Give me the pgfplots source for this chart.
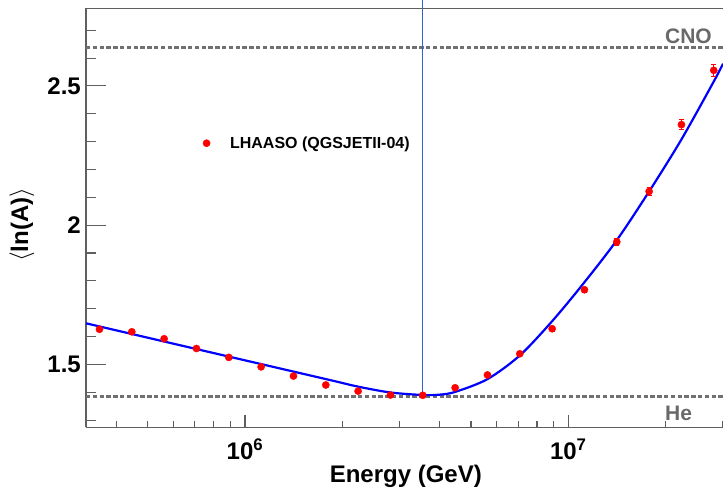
\documentclass[border=0pt]{standalone}
\usepackage{fontspec}
\setmainfont{Liberation Sans}
\usepackage{pgfplots}
\pgfplotsset{compat=1.18}
\definecolor{fitblue}{RGB}{0,0,255}
\definecolor{vline}{RGB}{40,100,215}
\definecolor{dashgray}{RGB}{112,112,112}
\definecolor{txtgray}{RGB}{105,105,105}
\definecolor{axgray}{RGB}{95,95,95}
\definecolor{ptred}{RGB}{255,0,0}
\begin{document}
\begin{tikzpicture}[x=1pt,y=1pt]
\begin{axis}[
  at={(0,0)}, anchor=south west,
  scale only axis, width=637pt, height=419pt,
  xmode=log, log basis x=10,
  xmin=3.2237e5, xmax=3.0103e7,
  ymin=1.274, ymax=2.7788,
  axis x line*=bottom, axis y line*=left,
  axis line style={axgray, line width=1.2pt},
  tick style={axgray, line width=1.1pt},
  tick align=inside,
  xtick style={/pgfplots/major tick length=12pt, /pgfplots/minor tick length=6pt},
  ytick style={/pgfplots/major tick length=20pt, /pgfplots/minor tick length=10pt},
  xtick={1e6,1e7}, xticklabels={10\textsuperscript{6},10\textsuperscript{7}},
  minor xtick={4e5,5e5,6e5,7e5,8e5,9e5,2e6,3e6,4e6,5e6,6e6,7e6,8e6,9e6,2e7,3e7},
  ytick={1.5,2,2.5}, yticklabels={1.5,2,2.5},
  minor ytick={1.3,1.4,1.6,1.7,1.8,1.9,2.1,2.2,2.3,2.4,2.6,2.7},
  ticklabel style={font=\bfseries\fontsize{24}{28}\selectfont, text=black},
  xticklabel style={anchor=base, inner sep=0pt, yshift=-32.7pt},
  yticklabel style={anchor=east, inner sep=0pt, xshift=-5pt},
  xlabel={Energy (GeV)},
  xlabel style={at={(axis description cs:0.502,0)}, anchor=base, yshift=-55.7pt, inner sep=0pt, font=\bfseries\fontsize{24}{28}\selectfont},
  ylabel={$\langle$ln(A)$\rangle$},
  ylabel style={at={(axis description cs:-0.1005,0.4828)}, anchor=center, inner sep=0pt, font=\bfseries\fontsize{24}{28}\selectfont},
  legend style={at={(axis description cs:0.183,0.678)}, anchor=west, draw=none, fill=none, inner sep=0pt,
    font=\bfseries\fontsize{16}{19}\selectfont, text=black, nodes={inner sep=0pt}},
  legend image code/.code={\fill[ptred] (0pt,0pt) circle (3.6pt); \path[draw=none] (-3.6pt,0pt) -- (23.5pt,0pt);},
  clip=false,
]
% reference lines (He and CNO)
\addplot[draw=dashgray, line width=3pt, dash pattern=on 4.4pt off 2.4pt, forget plot]
  coordinates {(3.2237e5,2.639) (3.0103e7,2.639)};
\addplot[draw=dashgray, line width=3pt, dash pattern=on 4.4pt off 2.4pt, forget plot]
  coordinates {(3.2237e5,1.386) (3.0103e7,1.386)};
% fit curve
\addplot[fitblue, line width=2.2pt, smooth, tension=0.5, forget plot] coordinates {
  (3.2237e5,1.6475) (6.3096e5,1.5685) (1e6,1.5145) (1.8323e6,1.4437)
  (2.2387e6,1.420) (2.8184e6,1.399) (3.5481e6,1.390) (3.9811e6,1.391)
  (4.4668e6,1.401) (5.6234e6,1.447) (7.0795e6,1.532) (8.9125e6,1.655)
  (1.1220e7,1.795) (1.4125e7,1.946) (1.7783e7,2.121) (2.2387e7,2.308)
  (2.8184e7,2.516) (3.0103e7,2.580)};
% vertical line
\addplot[vline, line width=0.9pt, forget plot] coordinates {(3.5481e6,1.389) (3.5481e6,2.8086)};
% data
\addplot[only marks, mark=*, mark size=3.6pt, color=ptred, mark options={draw=ptred, fill=ptred},
  error bars/.cd, y dir=both, y explicit,
  error bar style={ptred, line width=0.8pt},
  error mark options={rotate=90, mark size=2.6pt, ptred, line width=0.8pt}]
  coordinates {
  (3.5481e5,1.626) +- (0,0.004)
  (4.4668e5,1.617) +- (0,0.004)
  (5.6234e5,1.592) +- (0,0.004)
  (7.0795e5,1.557) +- (0,0.004)
  (8.9125e5,1.525) +- (0,0.004)
  (1.1220e6,1.491) +- (0,0.004)
  (1.4125e6,1.458) +- (0,0.004)
  (1.7783e6,1.426) +- (0,0.004)
  (2.2387e6,1.404) +- (0,0.004)
  (2.8184e6,1.390) +- (0,0.004)
  (3.5481e6,1.389) +- (0,0.005)
  (4.4668e6,1.416) +- (0,0.005)
  (5.6234e6,1.462) +- (0,0.006)
  (7.0795e6,1.538) +- (0,0.007)
  (8.9125e6,1.628) +- (0,0.008)
  (1.1220e7,1.768) +- (0,0.009)
  (1.4125e7,1.940) +- (0,0.011)
  (1.7783e7,2.121) +- (0,0.014)
  (2.2387e7,2.361) +- (0,0.017)
  (2.8183e7,2.556) +- (0,0.020)
  };
\addlegendentry{LHAASO (QGSJETII-04)}
\node[anchor=base west, inner sep=0pt, text=txtgray, font=\bfseries\fontsize{21}{25}\selectfont] at (axis cs:1.991e7,2.6507) {CNO};
\node[anchor=base west, inner sep=0pt, text=txtgray, font=\bfseries\fontsize{21}{25}\selectfont] at (axis cs:1.991e7,1.300) {He};
% top frame line
\draw[axgray, line width=1.2pt] (rel axis cs:0,1) -- (rel axis cs:1,1);
\end{axis}
\pgfresetboundingbox
\useasboundingbox (-86pt,-61.7pt) rectangle (637pt,427.3pt);
\end{tikzpicture}
\end{document}
